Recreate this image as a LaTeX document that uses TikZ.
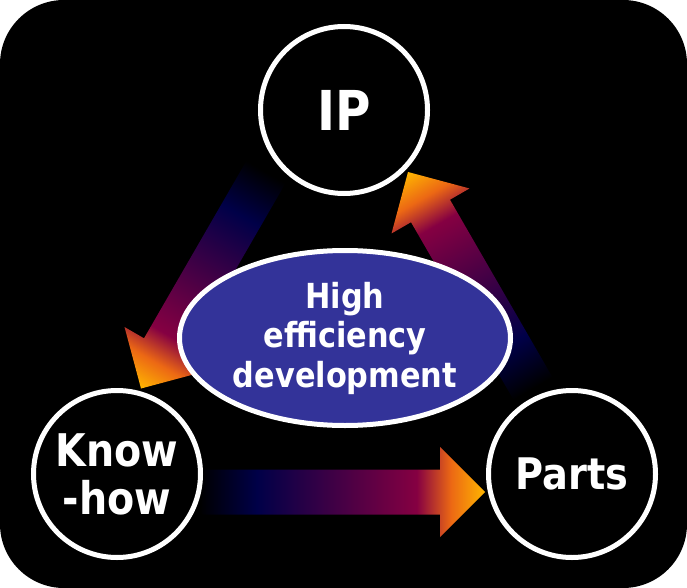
\documentclass[tikz,border=0pt]{standalone}
\usepackage{fontspec}
\setmainfont{DejaVu Sans}[FakeStretch=0.88]
\usetikzlibrary{shapes.geometric}
\definecolor{ellblue}{RGB}{51,51,153}
\definecolor{navyd}{RGB}{0,0,72}
\definecolor{crim}{RGB}{133,0,66}
\definecolor{orng}{RGB}{236,104,20}
\definecolor{goldy}{RGB}{255,182,0}
\pgfdeclarehorizontalshading{arrowgrad}{100bp}{color(0bp)=(black); color(25bp)=(black); color(35bp)=(navyd); color(63bp)=(crim); color(69bp)=(orng); color(75bp)=(goldy); color(100bp)=(goldy)}
\newcommand\gradarrow[1]{\shade[shading=arrowgrad] (0,-22.5) -- ({#1-45},-22.5) -- ({#1-45},-45) -- (#1,0) -- ({#1-45},45) -- ({#1-45},22.5) -- (0,22.5) -- cycle;}
\begin{document}
\begin{tikzpicture}[x=1pt,y=-1pt,
  ring/.style={circle, draw=white, line width=5pt, fill=black, minimum size=167pt, inner sep=0pt, text=white, align=center},
  core/.style={ellipse, draw=white, line width=5pt, fill=ellblue, minimum width=331pt, minimum height=175pt, inner sep=0pt, text=white, font=\fontsize{34.5}{39.5}\selectfont\bfseries, align=center}]
\path[use as bounding box, fill=white] (0,0) rectangle (687,588);
\fill[black, rounded corners=64pt] (0,0) rectangle (687,588);
% arrow anchors
\coordinate (tL) at (266,172);
\coordinate (tR) at (533,388.5);
\coordinate (tB) at (200,492);
\begin{scope}[transform canvas={shift={(tL)},rotate=-120}]
  \gradarrow{250}
\end{scope}
\begin{scope}[transform canvas={shift={(tR)},rotate=120}]
  \gradarrow{250}
\end{scope}
\begin{scope}[transform canvas={shift={(tB)}}]
  \gradarrow{285}
\end{scope}
% circles
\node[ring, font=\fontsize{55}{55}\selectfont\bfseries] (ip) at (344,110) {IP};
\node[ring, font=\fontsize{45}{48}\selectfont\bfseries] (know) at (117,474) {Know\\-how};
\node[ring, font=\fontsize{43.5}{48}\selectfont\bfseries] (parts) at (572,474) {Parts};
\node[core] (hed) at (345,338) {High\\efficiency\\development};
\end{tikzpicture}
\end{document}
